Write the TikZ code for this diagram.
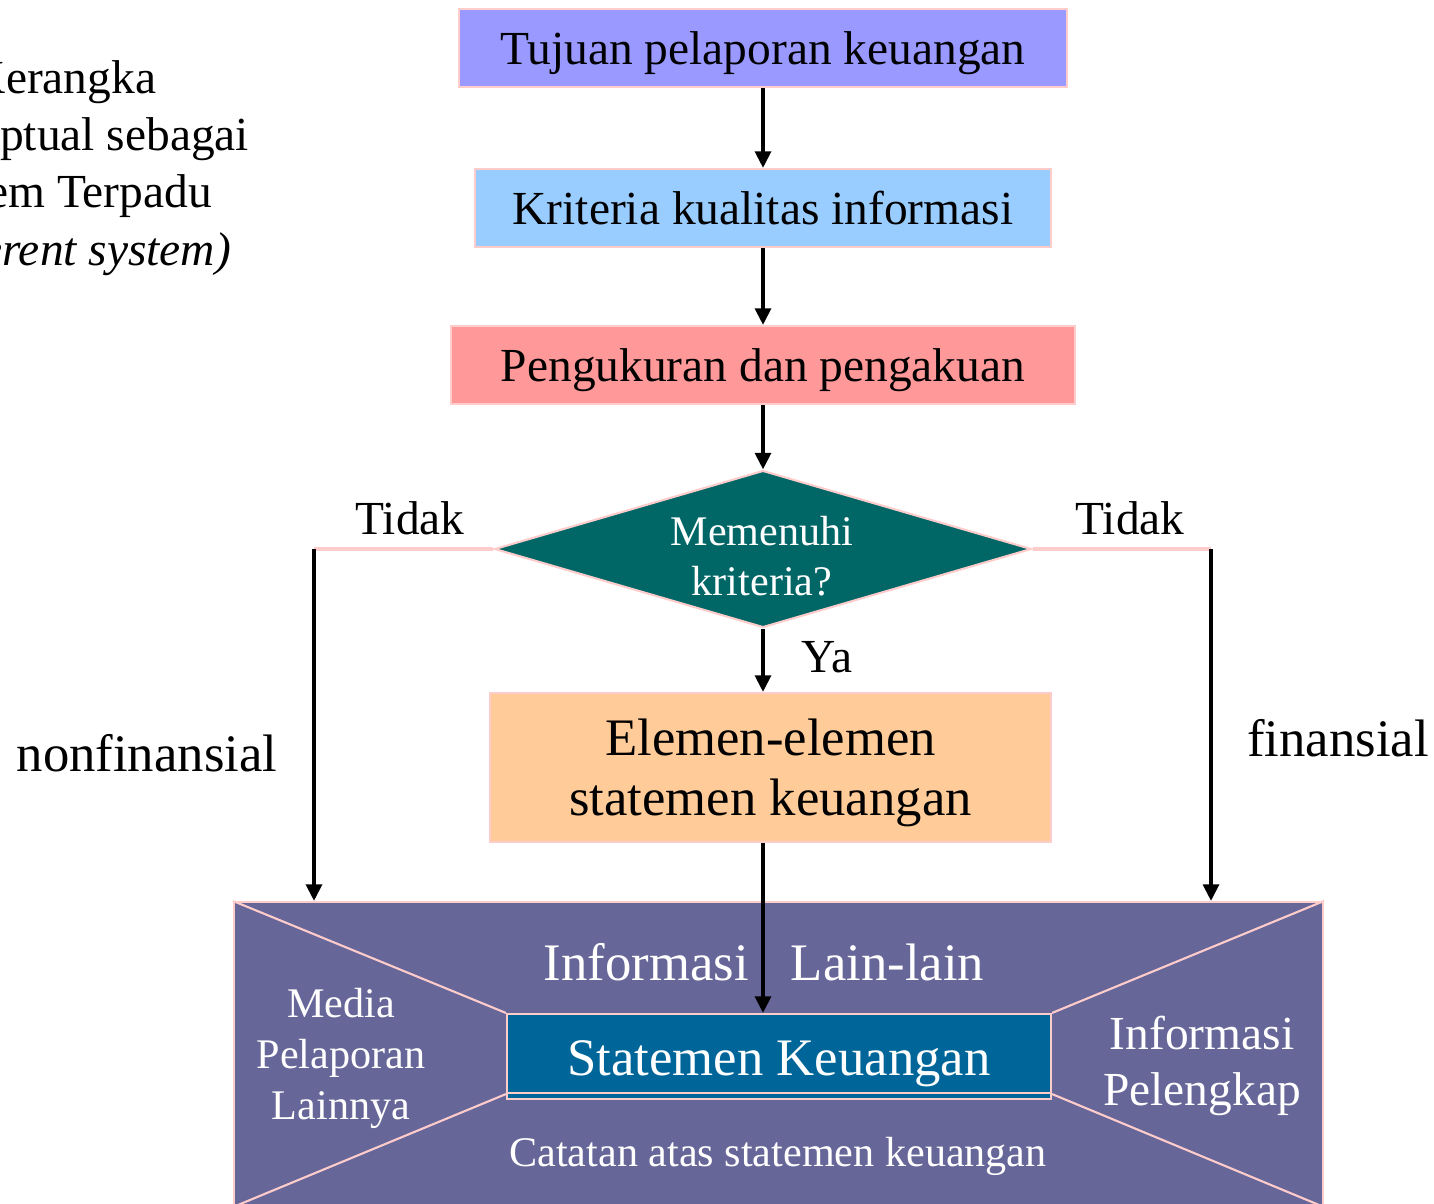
\documentclass[tikz,border=0pt]{standalone}
\usepackage{fontspec}
\setmainfont{Liberation Serif}
\usetikzlibrary{arrows.meta,shapes.geometric}
\newdimen\pxu \pxu=0.02cm
\definecolor{pinkb}{HTML}{FFCCCC}
\definecolor{cTuj}{HTML}{9999FF}
\definecolor{cKri}{HTML}{99CCFF}
\definecolor{cPen}{HTML}{FF9999}
\definecolor{cDia}{HTML}{006666}
\definecolor{cEle}{HTML}{FFCC99}
\definecolor{cBig}{HTML}{666699}
\definecolor{cSta}{HTML}{006699}
\begin{document}
\begin{tikzpicture}[x=0.02cm,y=-0.02cm,
  box/.style={draw=pinkb,line width=1.2pt,inner sep=0pt,align=center},
  oneline/.style={text height=24.3pt,text depth=5.9pt},
  arr/.style={-{Triangle[length=9.5pt,width=9pt]},line width=2.2pt,black},
  pinkline/.style={draw=pinkb,line width=2.2pt},
  fA/.style={font=\fontsize{27}{32}\selectfont},
  fB/.style={font=\fontsize{30}{34}\selectfont},
  fC/.style={font=\fontsize{24}{28.5}\selectfont},
  wtxt/.style={text=white,align=center,inner sep=0pt}]
\useasboundingbox (0,0) rectangle (1434,1204);

% left title text (clipped by page edge, as in the reference)
\node[font=\fontsize{27}{32.6}\selectfont,align=center,inner sep=0pt] (title) at (64,168)
  {Kerangka\\Konseptual sebagai\\Sistem Terpadu\\\textit{(coherent system)}};

% flow boxes
\node[box,oneline,fill=cTuj,fA,minimum width=608\pxu,minimum height=78\pxu] (tuj) at (763,48) {Tujuan pelaporan keuangan};
\node[box,oneline,fill=cKri,fA,minimum width=576\pxu,minimum height=78\pxu] (kri) at (763,208) {Kriteria kualitas informasi};
\node[box,oneline,fill=cPen,fA,minimum width=624\pxu,minimum height=78\pxu] (pen) at (763,365) {Pengukuran dan pengakuan};
\node[draw=pinkb,line width=1.2pt,fill=cDia,diamond,aspect=3.42,inner sep=0pt,
  minimum width=537\pxu,minimum height=157\pxu] (dia) at (763,549) {};
\node[wtxt,fC] (diatxt) at (762,556) {Memenuhi\\kriteria?};
\node[box,fill=cEle,minimum width=561\pxu,minimum height=149\pxu] (ele) at (770.5,767.5) {};
\node[fB,align=center,inner sep=0pt] (eletxt) at (770.5,773) {Elemen-elemen\\statemen keuangan};

% bottom block
\node[box,fill=cBig,minimum width=1089\pxu,minimum height=304\pxu] (big) at (778.5,1054) {};
\node[draw=pinkb,line width=1.2pt,fill=cSta,inner sep=0pt,minimum width=544\pxu,minimum height=6\pxu] (sh) at (779,1096) {};
\node[box,fill=cSta,minimum width=544\pxu,minimum height=79\pxu,text=white,fB,text height=30pt,text depth=4.8pt] (sta) at (779,1053.5) {Statemen Keuangan};
\draw[draw=pinkb,line width=1.2pt] (big.north west) -- (sta.north west);
\draw[draw=pinkb,line width=1.2pt] (big.south west) -- (sta.south west);
\draw[draw=pinkb,line width=1.2pt] (big.north east) -- (sta.north east);
\draw[draw=pinkb,line width=1.2pt] (big.south east) -- (sta.south east);

\node[wtxt,fB] (inf) at (764,962) {Informasi\hspace{0.8em}Lain-lain};
\node[wtxt,fC] (cat) at (778,1156) {Catatan atas statemen keuangan};
\node[wtxt,font=\fontsize{24}{29}\selectfont] (med) at (341,1058) {Media\\Pelaporan\\Lainnya};
\node[wtxt,fA] (pel) at (1202,1066) {Informasi\\Pelengkap};

% labels
\node[fA,inner sep=0pt] (td1) at (410,518) {Tidak};
\node[fA,inner sep=0pt] (td2) at (1130,518) {Tidak};
\node[fA,inner sep=0pt] (ya) at (827,657) {Ya};
\node[fB,inner sep=0pt] (nf) at (147,753) {nonfinansial};
\node[fB,inner sep=0pt] (fi) at (1338,738) {finansial};

% connectors
\coordinate (L) at (314,549);
\coordinate (R) at (1211,549);
\draw[arr] (tuj.south) -- (kri.north);
\draw[arr] (kri.south) -- (pen.north);
\draw[arr] (pen.south) -- (dia.north);
\draw[arr] (dia.south) -- (dia.south |- ele.north);
\draw[arr] (ele.south -| sta.north) ++(-16,0) coordinate (c1) -- (c1 |- sta.north);
\draw[pinkline] (dia.west) -- (L);
\draw[pinkline] (dia.east) -- (R);
\draw[arr] (L) -- (L |- big.north);
\draw[arr] (R) -- (R |- big.north);
\end{tikzpicture}
\end{document}
